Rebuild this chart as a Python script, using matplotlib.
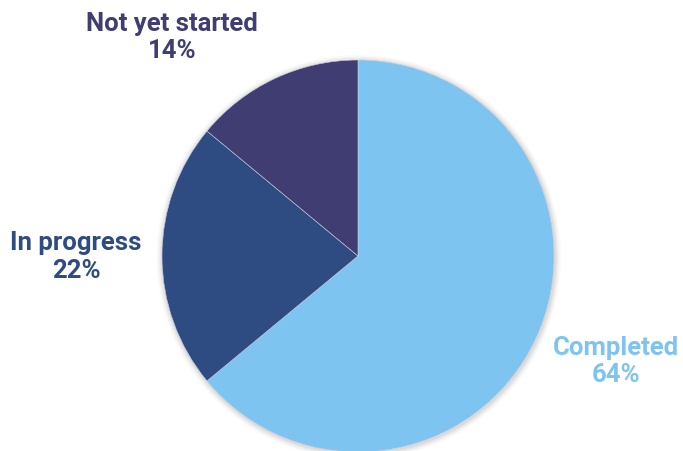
import matplotlib
matplotlib.use("Agg")
import matplotlib.pyplot as plt
from matplotlib.patches import Circle

categories = ["Completed", "In progress", "Not yet started"]
values = [64, 22, 14]
colors = ["#7DC4F0", "#2E4C82", "#3F3D72"]
# label positions (data coords, pie radius = 1)
label_pos = [(1.316, -0.538), (-1.439, -0.005), (-0.949, 1.115)]

W, H = 683, 451
fig = plt.figure(figsize=(W / 100, H / 100), dpi=100)
ax = fig.add_axes([0, 0, 1, 1])
cx, cy, R = 358, 256, 196

# soft shadow
for i, a in enumerate([0.05, 0.04, 0.03, 0.02]):
    ax.add_patch(Circle((0.004, -0.006), 1.0 + 0.008 * (i + 1), color="black", alpha=a, lw=0, zorder=0))

wedges, _ = ax.pie(values, colors=colors, startangle=90, counterclock=False, radius=1.0,
                   wedgeprops=dict(edgecolor="#CCCCDD", linewidth=0.4), frame=True)
ax.set_xlim(-cx / R, (W - cx) / R)
ax.set_ylim(-(H - cy) / R, cy / R)
ax.set_aspect("equal")
ax.axis("off")

for cat, v, col, (x, y) in zip(categories, values, colors, label_pos):
    ax.text(x, y, f"{cat}\n{v}%", ha="center", va="center", color=col,
            fontsize=18.5, fontweight="bold", family="Roboto", linespacing=1.2)

fig.savefig("out.png", dpi=100)
